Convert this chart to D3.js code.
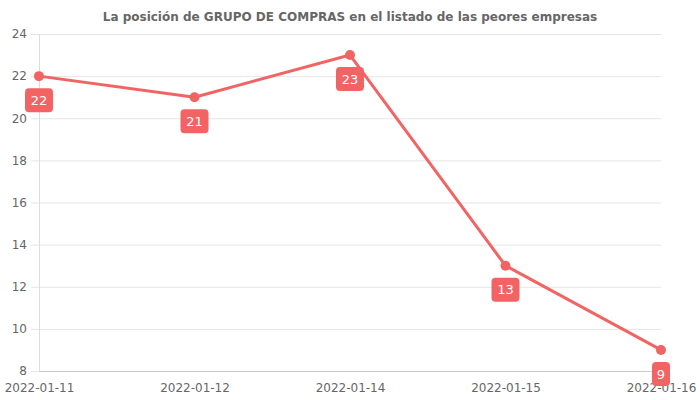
<!DOCTYPE html>
<html>
<head>
<meta charset="utf-8">
<script src="https://cdn.jsdelivr.net/npm/d3@7"></script>
<style>
  body { margin: 0; background: #fff; }
  svg { display: block; font-family: "DejaVu Sans", sans-serif; }
</style>
</head>
<body>
<div id="chart"></div>
<script>
// datos del gráfico
const fechas = ["2022-01-11", "2022-01-12", "2022-01-14", "2022-01-15", "2022-01-16"];
const posiciones = [22, 21, 23, 13, 9];
const yTicks = [8, 10, 12, 14, 16, 18, 20, 22, 24];
const titulo = "La posición de GRUPO DE COMPRAS en el listado de las peores empresas";

const width = 700, height = 400;
const marginTop = 34, marginRight = 39, marginBottom = 29, marginLeft = 39;
const color = "#f26464";

const svg = d3.select("#chart").append("svg")
    .attr("width", width)
    .attr("height", height)
    .attr("viewBox", [0, 0, width, height]);

const x = d3.scalePoint()
    .domain(fechas)
    .range([marginLeft, width - marginRight]);

const y = d3.scaleLinear()
    .domain([8, 24])
    .range([height - marginBottom, marginTop]);

// título
svg.append("text")
    .attr("x", width / 2)
    .attr("y", 21)
    .attr("text-anchor", "middle")
    .attr("font-size", "12px")
    .attr("font-weight", "bold")
    .attr("fill", "#666")
    .text(titulo);

// eje Y con rejilla
svg.append("g")
    .attr("transform", `translate(${marginLeft},0)`)
    .call(d3.axisLeft(y).tickValues(yTicks).tickSize(8).tickPadding(4))
    .call(g => g.select(".domain").remove())
    .call(g => g.selectAll(".tick line").attr("stroke", "#e5e5e5"))
    .call(g => g.selectAll(".tick line").clone()
        .attr("x1", 0)
        .attr("x2", width - marginLeft - marginRight)
        .attr("stroke", "#e5e5e5"))
    .call(g => g.selectAll(".tick text")
        .attr("fill", "#666")
        .attr("font-size", "12px")
        .attr("font-family", "DejaVu Sans, sans-serif"));

// línea vertical izquierda
svg.append("line")
    .attr("x1", marginLeft + 0.5).attr("x2", marginLeft + 0.5)
    .attr("y1", marginTop).attr("y2", height - marginBottom)
    .attr("stroke", "#ddd");

// eje X
svg.append("g")
    .attr("transform", `translate(0,${height - marginBottom})`)
    .call(d3.axisBottom(x).tickSize(0).tickPadding(12))
    .call(g => g.select(".domain").attr("stroke", "#ccc"))
    .call(g => g.selectAll(".tick text")
        .attr("fill", "#666")
        .attr("font-size", "12px")
        .attr("font-family", "DejaVu Sans, sans-serif"));

const datos = fechas.map((f, i) => ({ fecha: f, valor: posiciones[i] }));

const line = d3.line()
    .x(d => x(d.fecha))
    .y(d => y(d.valor));

svg.append("path")
    .datum(datos)
    .attr("fill", "none")
    .attr("stroke", color)
    .attr("stroke-width", 3)
    .attr("stroke-linejoin", "round")
    .attr("d", line);

svg.append("g")
    .selectAll("circle")
    .data(datos)
    .join("circle")
    .attr("cx", d => x(d.fecha))
    .attr("cy", d => y(d.valor))
    .attr("r", 5)
    .attr("fill", color);

// etiquetas
const etiqueta = svg.append("g")
    .selectAll("g")
    .data(datos)
    .join("g")
    .attr("transform", d => `translate(${x(d.fecha)},${y(d.valor) + 24})`);

etiqueta.append("rect")
    .attr("x", d => String(d.valor).length > 1 ? -14 : -9)
    .attr("y", -12)
    .attr("width", d => String(d.valor).length > 1 ? 28 : 18)
    .attr("height", 24)
    .attr("rx", 4)
    .attr("fill", color);

etiqueta.append("text")
    .attr("text-anchor", "middle")
    .attr("dy", "0.36em")
    .attr("fill", "#fff")
    .attr("font-size", "13px")
    .text(d => d.valor);
</script>
</body>
</html>
